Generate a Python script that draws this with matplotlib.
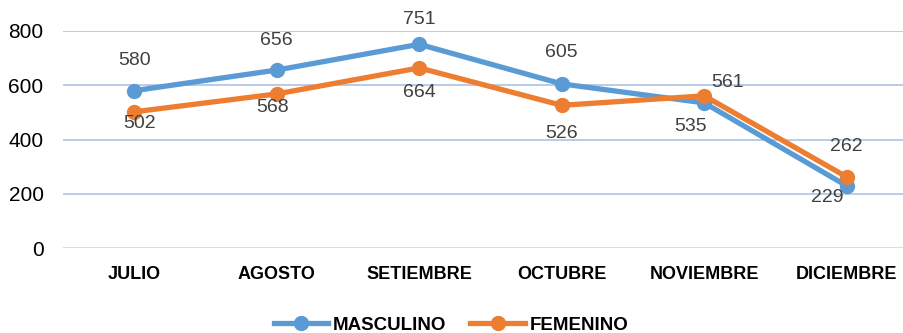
import matplotlib
matplotlib.use("Agg")
import matplotlib.pyplot as plt
from matplotlib.lines import Line2D

plt.rcParams['font.family'] = ['Liberation Sans', 'DejaVu Sans']

months = ["JULIO", "AGOSTO", "SETIEMBRE", "OCTUBRE", "NOVIEMBRE", "DICIEMBRE"]
masculino = [580, 656, 751, 605, 535, 229]
femenino = [502, 568, 664, 526, 561, 262]

# label offsets in pixels (dx, dy; dy positive = upward)
masc_off = [(0, 30), (0, 30), (0, 25), (0, 31), (-14, -24), (-19, -12)]
fem_off = [(5, -12), (-4, -14), (0, -25), (0, -28), (23, 13), (0, 30)]

BLUE = "#5B9BD5"
ORANGE = "#ED7D31"

W, H = 904, 333
fig = plt.figure(figsize=(W / 100, H / 100), dpi=100)
left, right = 63, 918
bottom, top = 248, 31
ax = fig.add_axes([left / W, 1 - bottom / H, (right - left) / W, (bottom - top) / H])

x = list(range(len(months)))
ax.plot(x, masculino, color=BLUE, lw=3.8, marker="o", ms=10, label="MASCULINO",
        solid_capstyle="round", zorder=3)
ax.plot(x, femenino, color=ORANGE, lw=3.8, marker="o", ms=10, label="FEMENINO",
        solid_capstyle="round", zorder=4)

for xi, v, (dx, dy) in zip(x, masculino, masc_off):
    ax.annotate(str(v), (xi, v), xytext=(dx, dy), textcoords="offset pixels",
                ha="center", va="center", fontsize=14, color="#404040", zorder=5)
for xi, v, (dx, dy) in zip(x, femenino, fem_off):
    ax.annotate(str(v), (xi, v), xytext=(dx, dy), textcoords="offset pixels",
                ha="center", va="center", fontsize=14, color="#404040", zorder=5)

ax.set_xlim(-0.5, len(months) - 0.5)
ax.set_ylim(0, 800)
ax.set_yticks([0, 200, 400, 600, 800])
ax.set_xticks(x)
ax.set_xticklabels(months, fontweight="bold", fontsize=13)
ax.tick_params(axis="y", length=0, pad=14, labelsize=15)
ax.tick_params(axis="x", length=0, pad=13)
for s in ax.spines.values():
    s.set_visible(False)
for yv in [200, 400, 600, 800]:
    ax.axhline(yv, color="#B4C7E7", lw=1.3, zorder=1)
ax.axhline(0, color="#D9D9D9", lw=2, zorder=1)

handles = [Line2D([], [], color=BLUE, lw=3.8, marker="o", ms=10),
           Line2D([], [], color=ORANGE, lw=3.8, marker="o", ms=10)]
fig.legend(handles, ["MASCULINO", "FEMENINO"], loc="center",
           bbox_to_anchor=(451 / W, 1 - 325 / H), ncol=2, frameon=False,
           prop={"weight": "bold", "size": 13.5}, handlelength=2.9,
           handletextpad=0.25, columnspacing=1.3)

fig.savefig("out.png", dpi=100)
